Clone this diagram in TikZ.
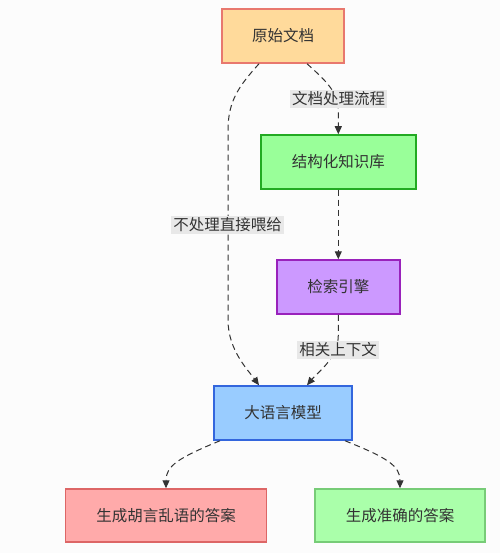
\documentclass[tikz,border=0pt]{standalone}
\usepackage{fontspec}
\setmainfont{Noto Sans CJK SC}
\usetikzlibrary{arrows.meta}
\definecolor{bg}{HTML}{FCFCFC}
\definecolor{edge}{HTML}{333333}
\definecolor{txt}{HTML}{333333}
\tikzset{
  box/.style={draw, line width=1.5pt, minimum height=54pt, inner sep=0pt, font=\fontsize{15.5pt}{18pt}\selectfont, text=txt},
  lbl/.style={fill=black!9, inner sep=2pt, font=\fontsize{15.5pt}{18pt}\selectfont, text=txt},
  conn/.style={draw=edge, line width=1pt, dash pattern=on 6pt off 4pt, -{Triangle[length=8pt,width=7pt]}},
}
\begin{document}
\begin{tikzpicture}[x=1pt,y=-1pt]
\fill[bg] (0,0) rectangle (500,553);
\useasboundingbox (0,0) rectangle (500,553);
\node[box, fill={rgb,255:red,255;green,218;blue,155}, draw={rgb,255:red,232;green,120;blue,110}, minimum width=122pt] (b1) at (283,36) {原始文档};
\node[box, fill={rgb,255:red,153;green,255;blue,153}, draw={rgb,255:red,34;green,170;blue,34}, minimum width=155pt] (b2) at (338.3,162) {结构化知识库};
\node[box, fill={rgb,255:red,204;green,153;blue,255}, draw={rgb,255:red,153;green,34;blue,187}, minimum width=123pt] (b3) at (338.3,287) {检索引擎};
\node[box, fill={rgb,255:red,153;green,204;blue,255}, draw={rgb,255:red,51;green,102;blue,221}, minimum width=138pt] (b4) at (283,413) {大语言模型};
\node[box, fill={rgb,255:red,255;green,170;blue,170}, draw={rgb,255:red,221;green,102;blue,102}, minimum width=201pt, minimum height=53pt] (b5) at (166,515.5) {生成胡言乱语的答案};
\node[box, fill={rgb,255:red,170;green,255;blue,170}, draw={rgb,255:red,119;green,204;blue,119}, minimum width=170pt, minimum height=53pt] (b6) at (400,515.5) {生成准确的答案};

\coordinate (p1) at (338.3,110);
\coordinate (p2a) at (228,130);
\coordinate (p2b) at (228,320);
\coordinate (p3) at (338.3,335);

% 原始文档 -> 结构化知识库
\path[conn] ([xshift=24pt]b1.south) .. controls (325,80) and (338.3,92) .. (p1) -- (b2.north);
% 结构化知识库 -> 检索引擎
\path[conn] (b2.south) -- (b3.north);
% 检索引擎 -> 大语言模型
\path[conn] (b3.south) -- (p3) .. controls (338.3,358) and (318,372) .. ([xshift=24pt]b4.north);
% 原始文档 -> 大语言模型
\path[conn] ([xshift=-24pt]b1.south) .. controls (240,85) and (228,100) .. (p2a) -- (p2b) .. controls (228,350) and (248,370) .. ([xshift=-24pt]b4.north);
% 大语言模型 -> answers
\path[conn] ([xshift=-63pt]b4.south) .. controls (178,458) and (166,466) .. (b5.north);
\path[conn] ([xshift=62pt]b4.south) .. controls (388,458) and (400,466) .. (b6.north);

\node[lbl] (l1) at (338.7,99) {文档处理流程};
\node[lbl] (l2) at (227.7,225) {不处理直接喂给};
\node[lbl] (l3) at (338,350) {相关上下文};
\end{tikzpicture}
\end{document}
